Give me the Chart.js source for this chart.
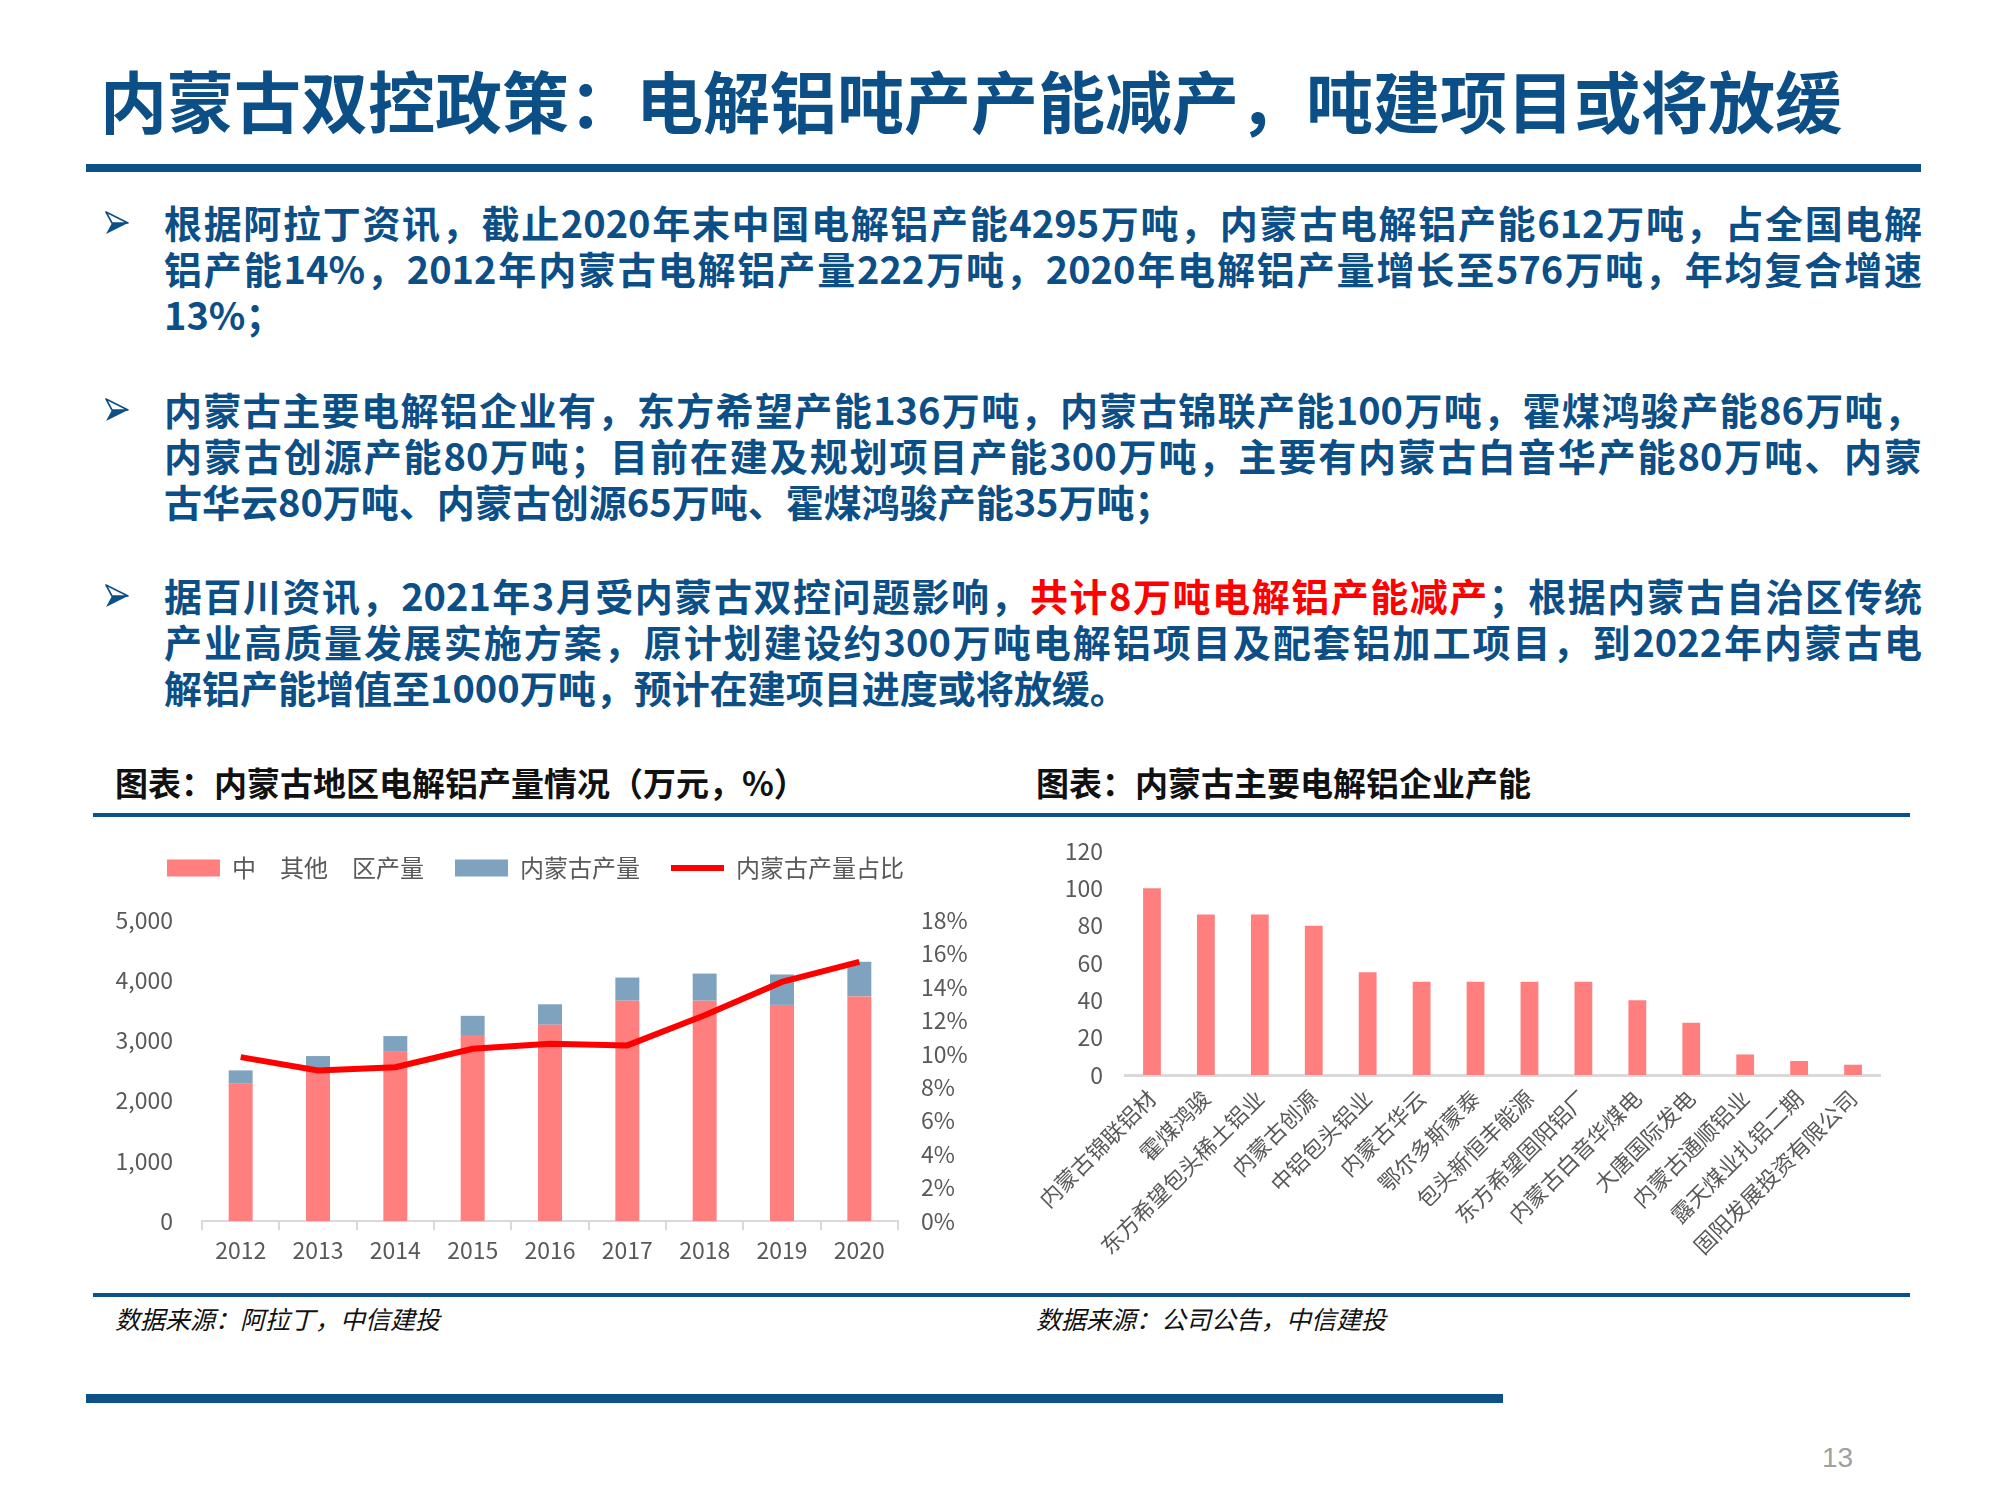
<!DOCTYPE html>
<html lang="zh">
<head>
<meta charset="utf-8">
<script src="https://cdn.jsdelivr.net/npm/chart.js@4.4.1/dist/chart.umd.min.js"></script>
<style>
  html, body { margin: 0; padding: 0; background: #fff; }
  body { width: 2000px; height: 1500px; position: relative; overflow: hidden;
         font-family: "Noto Sans CJK SC", "Noto Sans", sans-serif; }
  #title { position: absolute; left: 100px; top: 59px; font-size: 67px; line-height: 80px;
           font-weight: 700; color: #0c4f87; white-space: nowrap; }
  .rule { position: absolute; background: #0c5188; }
  .para { position: absolute; left: 164px; width: 1758px; font-size: 38px; line-height: 46px;
          font-weight: 700; color: #0c4f87; }
  .ln.j { text-align: justify; text-align-last: justify; }
  .arrow { position: absolute; left: 105px; width: 24px; height: 24px; }
  .red { color: #ff0000; }
  .ctitle { position: absolute; top: 762px; font-size: 33px; line-height: 40px;
            font-weight: 700; color: #111; white-space: nowrap; }
  .src { position: absolute; top: 1302px; font-size: 25px; line-height: 32px;
         font-style: italic; color: #111; white-space: nowrap; }
  #pg { position: absolute; left: 1822px; top: 1442px; font-size: 28px; color: #a0a0a0;
        font-family: "Liberation Sans Narrow", "Liberation Sans", sans-serif; }
  canvas { position: absolute; }
</style>
</head>
<body>

<div id="title">内蒙古双控政策：电解铝吨产产能减产，吨建项目或将放缓</div>
<div class="rule" style="left:86px; top:164px; width:1835px; height:8px;"></div>

<!-- bullets -->
<svg class="arrow" style="top:211px;" viewBox="0 0 24 24">
  <polygon points="1,1 23,12 7,12" fill="#ffffff" stroke="#0c4f87" stroke-width="1.6" stroke-linejoin="round"/>
  <polygon points="7,12 23,12 1,23" fill="#0c4f87"/>
</svg>
<div class="para" style="top:199px;">
  <div class="ln j">根据阿拉丁资讯，截止2020年末中国电解铝产能4295万吨，内蒙古电解铝产能612万吨，占全国电解</div>
  <div class="ln j">铝产能14%，2012年内蒙古电解铝产量222万吨，2020年电解铝产量增长至576万吨，年均复合增速</div>
  <div class="ln">13%；</div>
</div>

<svg class="arrow" style="top:398px;" viewBox="0 0 24 24">
  <polygon points="1,1 23,12 7,12" fill="#ffffff" stroke="#0c4f87" stroke-width="1.6" stroke-linejoin="round"/>
  <polygon points="7,12 23,12 1,23" fill="#0c4f87"/>
</svg>
<div class="para" style="top:386px;">
  <div class="ln j">内蒙古主要电解铝企业有，东方希望产能136万吨，内蒙古锦联产能100万吨，霍煤鸿骏产能86万吨，</div>
  <div class="ln j">内蒙古创源产能80万吨；目前在建及规划项目产能300万吨，主要有内蒙古白音华产能80万吨、内蒙</div>
  <div class="ln">古华云80万吨、内蒙古创源65万吨、霍煤鸿骏产能35万吨；</div>
</div>

<svg class="arrow" style="top:584px;" viewBox="0 0 24 24">
  <polygon points="1,1 23,12 7,12" fill="#ffffff" stroke="#0c4f87" stroke-width="1.6" stroke-linejoin="round"/>
  <polygon points="7,12 23,12 1,23" fill="#0c4f87"/>
</svg>
<div class="para" style="top:572px;">
  <div class="ln j">据百川资讯，2021年3月受内蒙古双控问题影响，<span class="red">共计8万吨电解铝产能减产</span>；根据内蒙古自治区传统</div>
  <div class="ln j">产业高质量发展实施方案，原计划建设约300万吨电解铝项目及配套铝加工项目，到2022年内蒙古电</div>
  <div class="ln">解铝产能增值至1000万吨，预计在建项目进度或将放缓。</div>
</div>

<!-- chart headers / footers -->
<div class="ctitle" style="left:115px;">图表：内蒙古地区电解铝产量情况（万元，%）</div>
<div class="ctitle" style="left:1036px;">图表：内蒙古主要电解铝企业产能</div>
<div class="rule" style="left:93px; top:813px; width:1817px; height:4px;"></div>

<canvas id="outputChart" width="883" height="470" style="left:94px; top:825px;"></canvas>
<canvas id="capacityChart" width="899" height="470" style="left:1022px; top:825px;"></canvas>

<div class="rule" style="left:93px; top:1293px; width:1817px; height:4px;"></div>
<div class="src" style="left:115px;">数据来源：阿拉丁，中信建投</div>
<div class="src" style="left:1036px;">数据来源：公司公告，中信建投</div>

<div class="rule" style="left:86px; top:1394px; width:1417px; height:9px;"></div>
<div id="pg">13</div>

<script>
// ── DATA ───────────────────────────────────────
const years        = ['2012', '2013', '2014', '2015', '2016', '2017', '2018', '2019', '2020'];
const otherOutput  = [2280, 2490, 2810, 3090, 3260, 3660, 3660, 3590, 3730];   // 中国其他地区产量
const imOutput     = [222, 250, 262, 318, 340, 384, 450, 505, 576];             // 内蒙古产量
const imShare      = [9.8, 9.0, 9.2, 10.3, 10.6, 10.5, 12.3, 14.3, 15.5];       // 内蒙古产量占比 %
const outputTicks  = [0, 1000, 2000, 3000, 4000, 5000];
const shareTicks   = [0, 2, 4, 6, 8, 10, 12, 14, 16, 18];

const companies = ['内蒙古锦联铝材', '霍煤鸿骏', '东方希望包头稀土铝业', '内蒙古创源', '中铝包头铝业',
                   '内蒙古华云', '鄂尔多斯蒙泰', '包头新恒丰能源', '东方希望固阳铝厂', '内蒙古白音华煤电',
                   '大唐国际发电', '内蒙古通顺铝业', '露天煤业扎铝二期', '固阳发展投资有限公司'];
const capacity  = [100, 86, 86, 80, 55, 50, 50, 50, 50, 40, 28, 11, 7.5, 5.5];
const capTicks  = [0, 20, 40, 60, 80, 100, 120];

// ── SHARED STYLE ───────────────────────────────
const PINK = '#ff7f7f', STEEL = '#7fa3bf', RED = '#ff0000', AXIS = '#d9d9d9', TXT = '#595959';
const tickFont = { family: "'Liberation Sans Narrow', 'Noto Sans CJK SC', sans-serif", size: 23 };
Chart.defaults.font.family = "'Noto Sans CJK SC', sans-serif";
Chart.defaults.color = TXT;

// legend gets a fixed height so the plot top lines up
const legendSpace = {
  id: 'legendSpace',
  beforeInit(chart) {
    const fit = chart.legend.fit;
    chart.legend.fit = function () { fit.call(this); this.height = 95; };
  }
};

// ── LEFT: 产量 stacked bars + 占比 line ─────────
new Chart(document.getElementById('outputChart'), {
  data: {
    labels: years,
    datasets: [
      { type: 'bar', label: '中　其他　区产量', data: otherOutput, backgroundColor: PINK,
        borderWidth: 0, stack: 'p', yAxisID: 'y', order: 2, pointStyle: 'rect',
        barPercentage: 0.31, categoryPercentage: 1 },
      { type: 'bar', label: '内蒙古产量', data: imOutput, backgroundColor: STEEL,
        borderWidth: 0, stack: 'p', yAxisID: 'y', order: 2, pointStyle: 'rect',
        barPercentage: 0.31, categoryPercentage: 1 },
      { type: 'line', label: '内蒙古产量占比', data: imShare, borderColor: RED, backgroundColor: RED,
        borderWidth: 6, pointRadius: 0, tension: 0, yAxisID: 'y1', order: 1, pointStyle: 'line' }
    ]
  },
  options: {
    responsive: false,
    animation: false,
    layout: { padding: 0 },
    plugins: {
      legend: {
        position: 'top',
        labels: { usePointStyle: true, pointStyleWidth: 53, boxHeight: 17, padding: 31,
                  color: TXT, font: { size: 24 },
                  sort: (a, b) => a.datasetIndex - b.datasetIndex }
      },
      tooltip: { enabled: false }
    },
    scales: {
      x: {
        stacked: true,
        grid: { display: true, drawOnChartArea: false, drawTicks: true, tickLength: 9,
                color: AXIS, lineWidth: 2 },
        border: { display: true, color: AXIS, width: 2 },
        ticks: { font: tickFont, color: TXT, padding: 6, maxRotation: 0 },
        afterFit(s) { s.height = 74; }
      },
      y: {
        stacked: true, min: 0, max: 5000,
        afterBuildTicks(s) { s.ticks = outputTicks.map(v => ({ value: v })); },
        grid: { display: false, drawTicks: false },
        border: { display: false },
        ticks: { font: tickFont, color: TXT, padding: 29,
                 callback: v => v.toLocaleString('en-US') },
        afterFit(s) { s.width = 108; }
      },
      y1: {
        position: 'right', min: 0, max: 18,
        afterBuildTicks(s) { s.ticks = shareTicks.map(v => ({ value: v })); },
        grid: { display: false, drawTicks: false },
        border: { display: false },
        ticks: { font: tickFont, color: TXT, padding: 23, callback: v => v + '%' },
        afterFit(s) { s.width = 79; }
      }
    }
  },
  plugins: [legendSpace]
});

// ── RIGHT: 企业产能 bars ─────────────────────────
new Chart(document.getElementById('capacityChart'), {
  type: 'bar',
  data: {
    labels: companies,
    datasets: [{ label: '产能', data: capacity, backgroundColor: PINK, borderWidth: 0,
                 barPercentage: 0.33, categoryPercentage: 1 }]
  },
  options: {
    responsive: false,
    animation: false,
    layout: { padding: { top: 26, right: 41, left: 0, bottom: 0 } },
    plugins: { legend: { display: false }, tooltip: { enabled: false } },
    scales: {
      x: {
        grid: { display: false, drawTicks: false },
        border: { display: true, color: AXIS, width: 3 },
        ticks: { font: { family: "'Noto Sans CJK SC', sans-serif", size: 22 }, color: TXT,
                 minRotation: 45, maxRotation: 45, autoSkip: false, padding: 10 },
        afterFit(s) { s.height = 220; }
      },
      y: {
        min: 0, max: 120,
        afterBuildTicks(s) { s.ticks = capTicks.map(v => ({ value: v })); },
        grid: { display: false, drawTicks: false },
        border: { display: false },
        ticks: { font: tickFont, color: TXT, padding: 22 },
        // the label gap would otherwise push the plot top down
        afterFit(s) { s.width = 103; s.paddingTop = 0; s.paddingBottom = 0; }
      }
    }
  }
});
</script>
</body>
</html>
